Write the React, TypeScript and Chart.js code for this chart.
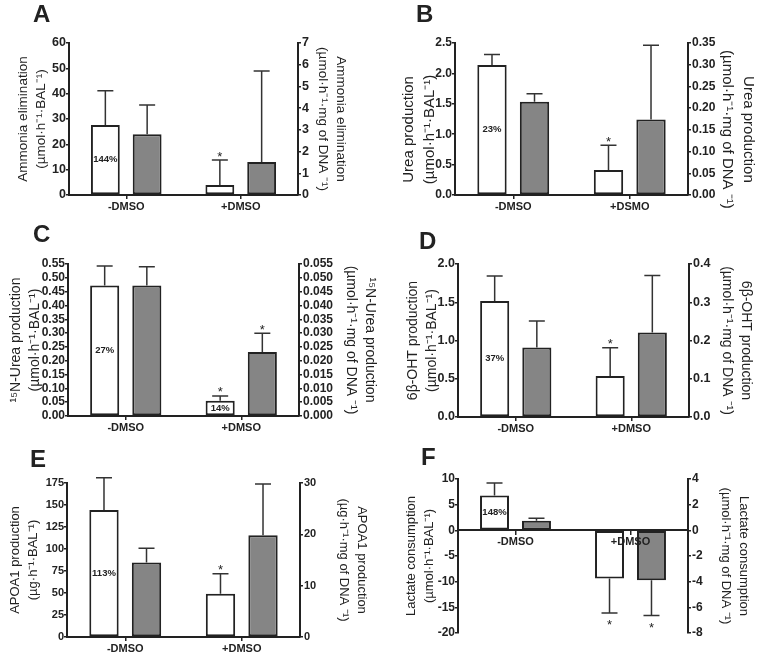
import React, { useEffect, useRef } from "react";
import { Chart, registerables } from "chart.js";

Chart.register(...registerables);

const FONT = "'Liberation Sans', Arial, Helvetica, sans-serif";
const INK = "#222222";
const GRAY_FILL = "#858585";

// ---------- categories ----------
const groupsDMSO = ["-DMSO", "+DMSO"];
const groupsDSMO = ["-DMSO", "+DSMO"];

// ---------- A: ammonia elimination ----------
const ammoniaBAL = [27.6, 3.9];
const ammoniaBALErr = [41.2, 13.8];
const ammoniaDNA = [2.8, 1.52];
const ammoniaDNAErr = [4.14, 5.71];
const ammoniaBALStar = [false, true];
const ammoniaDNAStar = [false, false];
const ammoniaPct = ["144%", ""];
const ammoniaBALTicks = [0, 10, 20, 30, 40, 50, 60];
const ammoniaDNATicks = [0, 1, 2, 3, 4, 5, 6, 7];

// ---------- B: urea production ----------
const ureaBAL = [2.14, 0.41];
const ureaBALErr = [2.31, 0.82];
const ureaDNA = [0.215, 0.174];
const ureaDNAErr = [0.233, 0.345];
const ureaBALStar = [false, true];
const ureaDNAStar = [false, false];
const ureaPct = ["23%", ""];
const ureaBALTicks = [0, 0.5, 1.0, 1.5, 2.0, 2.5];
const ureaDNATicks = [0, 0.05, 0.1, 0.15, 0.2, 0.25, 0.3, 0.35];

// ---------- C: 15N-urea production ----------
const n15BAL = [0.472, 0.0555];
const n15BALErr = [0.543, 0.0724];
const n15DNA = [0.0472, 0.0232];
const n15DNAErr = [0.054, 0.0299];
const n15BALStar = [false, true];
const n15DNAStar = [false, true];
const n15Pct = ["27%", "14%"];
const n15BALTicks = [0, 0.05, 0.1, 0.15, 0.2, 0.25, 0.3, 0.35, 0.4, 0.45, 0.5, 0.55];
const n15DNATicks = [0, 0.005, 0.01, 0.015, 0.02, 0.025, 0.03, 0.035, 0.04, 0.045, 0.05, 0.055];

// ---------- D: 6beta-OHT production ----------
const ohtBAL = [1.515, 0.537];
const ohtBALErr = [1.843, 0.904];
const ohtDNA = [0.182, 0.221];
const ohtDNAErr = [0.251, 0.37];
const ohtBALStar = [false, true];
const ohtDNAStar = [false, false];
const ohtPct = ["37%", ""];
const ohtBALTicks = [0, 0.5, 1.0, 1.5, 2.0];
const ohtDNATicks = [0, 0.1, 0.2, 0.3, 0.4];

// ---------- E: APOA1 production ----------
const apoBAL = [144.2, 49.1];
const apoBALErr = [181, 71.9];
const apoDNA = [14.5, 19.8];
const apoDNAErr = [17.3, 29.8];
const apoBALStar = [false, true];
const apoDNAStar = [false, false];
const apoPct = ["113%", ""];
const apoBALTicks = [0, 25, 50, 75, 100, 125, 150, 175];
const apoDNATicks = [0, 10, 20, 30];

// ---------- F: lactate consumption ----------
const lacBAL = [6.8, -9.37];
const lacBALErr = [9.2, -16.1];
const lacDNA = [0.74, -3.88];
const lacDNAErr = [0.95, -6.64];
const lacBALStar = [false, true];
const lacDNAStar = [false, true];
const lacPct = ["148%", ""];
const lacBALTicks = [-20, -15, -10, -5, 0, 5, 10];
const lacDNATicks = [-8, -6, -4, -2, 0, 2, 4];

type Panel = {
  letter: string;
  labels: string[];
  white: number[];
  whiteErr: number[];
  gray: number[];
  grayErr: number[];
  whiteStar: boolean[];
  grayStar: boolean[];
  pct: string[];
  leftTicks: number[];
  rightTicks: number[];
  leftDec: number;
  rightDec: number;
  leftTitle: string[];
  rightTitle: string[];
  // layout
  x: number;
  y: number;
  w: number;
  h: number;
  area: { left: number; right: number; top: number; bottom: number };
  letterX: number;
  letterY: number;
  leftTitleCenter: number;
  rightTitleOffset: number;
  titleSize: number;
  tickSize: number;
  titleShiftSpaces?: number;
  zeroAxis?: boolean;
};

const panels: Panel[] = [
  {
    letter: "A", labels: groupsDMSO,
    white: ammoniaBAL, whiteErr: ammoniaBALErr, gray: ammoniaDNA, grayErr: ammoniaDNAErr,
    whiteStar: ammoniaBALStar, grayStar: ammoniaDNAStar, pct: ammoniaPct,
    leftTicks: ammoniaBALTicks, rightTicks: ammoniaDNATicks, leftDec: 0, rightDec: 0,
    leftTitle: ["Ammonia elimination", "(µmol·h⁻¹·BAL⁻¹)"],
    rightTitle: ["Ammonia elimination", "(µmol·h⁻¹·mg of DNA ⁻¹)"],
    x: 0, y: 0, w: 381, h: 218,
    area: { left: 69, right: 298, top: 43, bottom: 195 },
    letterX: 33, letterY: 22, leftTitleCenter: 23, rightTitleOffset: 40, titleSize: 13.5, tickSize: 12.5,
  },
  {
    letter: "B", labels: groupsDSMO,
    white: ureaBAL, whiteErr: ureaBALErr, gray: ureaDNA, grayErr: ureaDNAErr,
    whiteStar: ureaBALStar, grayStar: ureaDNAStar, pct: ureaPct,
    leftTicks: ureaBALTicks, rightTicks: ureaDNATicks, leftDec: 1, rightDec: 2,
    leftTitle: ["Urea production", "(µmol·h⁻¹·BAL⁻¹)"],
    rightTitle: ["Urea production", "(µmol·h⁻¹·mg of DNA ⁻¹)"],
    x: 381, y: 0, w: 381, h: 218,
    area: { left: 74, right: 307, top: 43, bottom: 195 },
    letterX: 35, letterY: 22, leftTitleCenter: 28, rightTitleOffset: 14, titleSize: 15, tickSize: 12,
    titleShiftSpaces: 5,
  },
  {
    letter: "C", labels: groupsDMSO,
    white: n15BAL, whiteErr: n15BALErr, gray: n15DNA, grayErr: n15DNAErr,
    whiteStar: n15BALStar, grayStar: n15DNAStar, pct: n15Pct,
    leftTicks: n15BALTicks, rightTicks: n15DNATicks, leftDec: 2, rightDec: 3,
    leftTitle: ["¹⁵N-Urea production", "(µmol·h⁻¹·BAL⁻¹)"],
    rightTitle: ["¹⁵N-Urea production", "(µmol·h⁻¹·mg of DNA ⁻¹)"],
    x: 0, y: 218, w: 381, h: 218,
    area: { left: 68, right: 299, top: 46, bottom: 198 },
    letterX: 33, letterY: 24, leftTitleCenter: 16, rightTitleOffset: 11, titleSize: 14, tickSize: 12,
  },
  {
    letter: "D", labels: groupsDMSO,
    white: ohtBAL, whiteErr: ohtBALErr, gray: ohtDNA, grayErr: ohtDNAErr,
    whiteStar: ohtBALStar, grayStar: ohtDNAStar, pct: ohtPct,
    leftTicks: ohtBALTicks, rightTicks: ohtDNATicks, leftDec: 1, rightDec: 1,
    leftTitle: ["6β-OHT production", "(µmol·h⁻¹·BAL⁻¹)"],
    rightTitle: ["6β-OHT production", "(µmol·h⁻¹·mg of DNA ⁻¹)"],
    x: 381, y: 218, w: 381, h: 218,
    area: { left: 77, right: 308, top: 46, bottom: 199 },
    letterX: 38, letterY: 31, leftTitleCenter: 32, rightTitleOffset: 16, titleSize: 14, tickSize: 12.5,
  },
  {
    letter: "E", labels: groupsDMSO,
    white: apoBAL, whiteErr: apoBALErr, gray: apoDNA, grayErr: apoDNAErr,
    whiteStar: apoBALStar, grayStar: apoDNAStar, pct: apoPct,
    leftTicks: apoBALTicks, rightTicks: apoDNATicks, leftDec: 0, rightDec: 0,
    leftTitle: ["APOA1 production", "(µg·h⁻¹·BAL⁻¹)"],
    rightTitle: ["APOA1 production", "(µg·h⁻¹·mg of DNA ⁻¹)"],
    x: 0, y: 436, w: 381, h: 219,
    area: { left: 67, right: 300, top: 47, bottom: 201 },
    letterX: 30, letterY: 31, leftTitleCenter: 15, rightTitleOffset: 19, titleSize: 13, tickSize: 11,
  },
  {
    letter: "F", labels: groupsDMSO,
    white: lacBAL, whiteErr: lacBALErr, gray: lacDNA, grayErr: lacDNAErr,
    whiteStar: lacBALStar, grayStar: lacDNAStar, pct: lacPct,
    leftTicks: lacBALTicks, rightTicks: lacDNATicks, leftDec: 0, rightDec: 0,
    leftTitle: ["Lactate consumption", "(µmol·h⁻¹·BAL⁻¹)"],
    rightTitle: ["Lactate consumption", "(µmol·h⁻¹·mg of DNA ⁻¹)"],
    x: 381, y: 436, w: 381, h: 219,
    area: { left: 77, right: 307, top: 43, bottom: 197 },
    letterX: 40, letterY: 29, leftTitleCenter: 30, rightTitleOffset: 18, titleSize: 13, tickSize: 12,
    zeroAxis: true,
  },
];

// Pads title lines with spaces so the centred text sits lower on the axis.
function shiftTitle(lines: string[], n: number, side: "left" | "right") {
  if (!n) return lines;
  const sp = " ".repeat(n);
  return lines.map((l) => (side === "left" ? l + sp : sp + l));
}

function PanelChart({ p }: { p: Panel }) {
  const ref = useRef<HTMLCanvasElement>(null);

  useEffect(() => {
    const canvas = ref.current;
    if (!canvas) return;
    const lh = 1.38;
    const half = (p.titleSize * lh) / 2;
    const tickFont = { family: FONT, size: p.tickSize, weight: "bold" as const };

    const overlay = {
      id: "overlay" + p.letter,
      afterDatasetsDraw(chart: any) {
        const ctx = chart.ctx as CanvasRenderingContext2D;
        ctx.save();
        chart.data.datasets.forEach((ds: any, di: number) => {
          const meta = chart.getDatasetMeta(di);
          const ys = chart.scales[ds.yAxisID];
          const errs = di === 0 ? p.whiteErr : p.grayErr;
          const stars = di === 0 ? p.whiteStar : p.grayStar;
          meta.data.forEach((bar: any, j: number) => {
            const { x, y } = bar.getProps(["x", "y"], true);
            const ye = ys.getPixelForValue(errs[j]);
            ctx.strokeStyle = "#333";
            ctx.lineWidth = 1.5;
            ctx.beginPath();
            ctx.moveTo(x, y);
            ctx.lineTo(x, ye);
            ctx.moveTo(x - 8, ye);
            ctx.lineTo(x + 8, ye);
            ctx.stroke();
            if (stars[j]) {
              const up = errs[j] >= ds.data[j];
              ctx.fillStyle = INK;
              ctx.font = `13px ${FONT}`;
              ctx.textAlign = "center";
              ctx.textBaseline = "alphabetic";
              ctx.fillText("*", x, up ? ye + 0.5 : ye + 16.5);
            }
          });
        });
        const m0 = chart.getDatasetMeta(0);
        m0.data.forEach((bar: any, j: number) => {
          const label = p.pct[j];
          if (!label) return;
          const { x, y, base } = bar.getProps(["x", "y", "base"], true);
          ctx.fillStyle = INK;
          ctx.font = `bold 9.5px ${FONT}`;
          ctx.textAlign = "center";
          ctx.textBaseline = "middle";
          ctx.fillText(label, x, (y + base) / 2);
        });
        ctx.fillStyle = INK;
        ctx.font = `bold 24px ${FONT}`;
        ctx.textAlign = "left";
        ctx.textBaseline = "alphabetic";
        ctx.fillText(p.letter, p.letterX, p.letterY);
        ctx.restore();
      },
    };

    const yAxis = (ticks: number[], dec: number, side: "left" | "right", title: string[], pad: number, width: number) => ({
      position: side,
      min: ticks[0],
      max: ticks[ticks.length - 1],
      afterBuildTicks: (axis: any) => {
        axis.ticks = ticks.map((value) => ({ value }));
      },
      afterFit: (s: any) => {
        s.width = width;
      },
      ticks: {
        autoSkip: false,
        color: INK,
        font: tickFont,
        padding: side === "left" ? 0 : 1,
        callback: (v: any) => Number(v).toFixed(dec),
      },
      grid: {
        drawOnChartArea: false,
        drawTicks: true,
        tickLength: 3,
        color: INK,
        lineWidth: 1.5,
      },
      border: { display: true, color: INK, width: 2 },
      title: {
        display: true,
        text: shiftTitle(title, p.titleShiftSpaces || 0, side),
        color: INK,
        font: { family: FONT, size: p.titleSize, lineHeight: lh },
        padding: { top: Math.max(0, pad), bottom: 0 },
      },
    });

    const chart = new Chart(canvas, {
      type: "bar",
      data: {
        labels: p.labels,
        datasets: [
          {
            data: p.white,
            yAxisID: "y",
            backgroundColor: "#ffffff",
            borderColor: INK,
            borderWidth: 2,
            borderSkipped: false,
            barPercentage: 0.69,
            categoryPercentage: 0.73,
          },
          {
            data: p.gray,
            yAxisID: "y1",
            backgroundColor: GRAY_FILL,
            borderColor: INK,
            borderWidth: 2,
            borderSkipped: false,
            barPercentage: 0.69,
            categoryPercentage: 0.73,
          },
        ],
      },
      options: {
        responsive: false,
        animation: false,
        events: [],
        layout: {
          padding: {
            top: p.area.top,
            bottom: p.zeroAxis ? p.h - p.area.bottom : 0,
            left: 0,
            right: 0,
          },
        },
        plugins: { legend: { display: false }, tooltip: { enabled: false } },
        scales: {
          x: {
            position: p.zeroAxis ? { y: 0 } : "bottom",
            afterFit: (s: any) => {
              if (!p.zeroAxis) s.height = p.h - p.area.bottom;
            },
            grid: {
              display: true,
              drawOnChartArea: false,
              drawTicks: true,
              tickLength: 4,
              offset: false,
              color: INK,
              lineWidth: 1.5,
              z: p.zeroAxis ? 1 : 0,
            },
            border: { display: true, color: INK, width: 2, z: p.zeroAxis ? 1 : 0 },
            ticks: {
              color: INK,
              font: { family: FONT, size: 11, weight: "bold" as const },
              padding: 1,
              maxRotation: 0,
              autoSkip: false,
              z: p.zeroAxis ? 1 : 0,
            },
          },
          y: yAxis(p.leftTicks, p.leftDec, "left", p.leftTitle, p.leftTitleCenter - half, p.area.left),
          y1: yAxis(p.rightTicks, p.rightDec, "right", p.rightTitle, p.rightTitleOffset - half, p.w - p.area.right),
        } as any,
      },
      plugins: [overlay],
    } as any);

    return () => chart.destroy();
  }, [p]);

  return (
    <canvas
      ref={ref}
      width={p.w}
      height={p.h}
      style={{ position: "absolute", left: p.x, top: p.y, width: p.w, height: p.h }}
    />
  );
}

export default function App() {
  return (
    <div style={{ position: "absolute", left: 0, top: 0, width: 762, height: 655, background: "#ffffff" }}>
      {panels.map((p) => (
        <PanelChart key={p.letter} p={p} />
      ))}
    </div>
  );
}
